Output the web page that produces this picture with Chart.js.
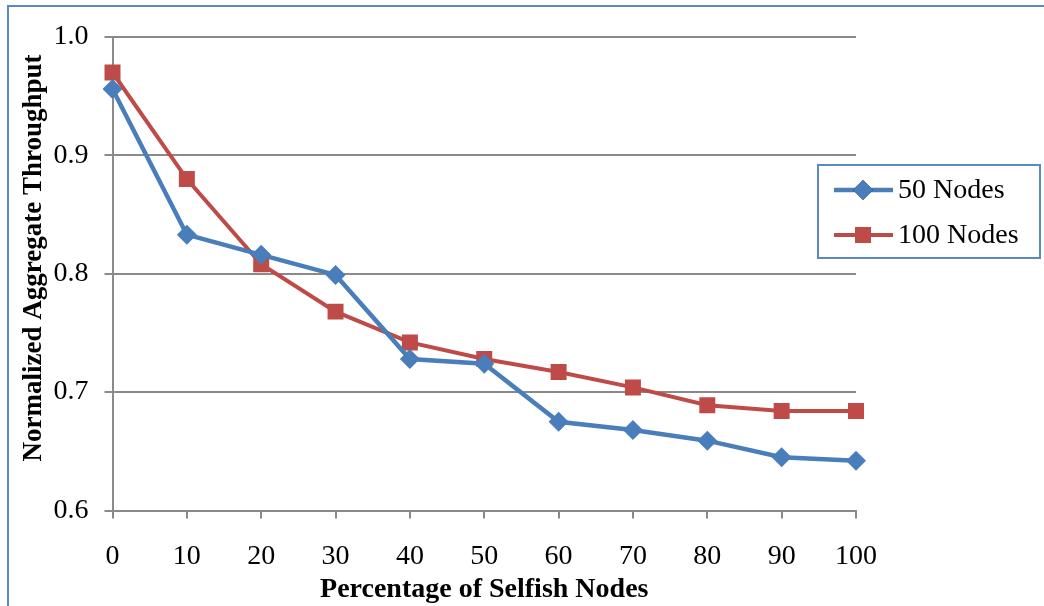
<!DOCTYPE html>
<html>
<head>
<meta charset="utf-8">
<script src="https://cdn.jsdelivr.net/npm/chart.js@4.4.1/dist/chart.umd.min.js"></script>
<style>
  html, body { margin: 0; padding: 0; background: #fff; }
  #wrap { width: 1044px; height: 606px; position: relative; }
</style>
</head>
<body>
<div id="wrap"><canvas id="c" width="1044" height="606"></canvas></div>
<script>
const categories = ['0', '10', '20', '30', '40', '50', '60', '70', '80', '90', '100'];
const nodes50 = [0.956, 0.833, 0.816, 0.799, 0.728, 0.724, 0.675, 0.668, 0.659, 0.645, 0.642];
const nodes100 = [0.970, 0.880, 0.808, 0.768, 0.742, 0.728, 0.717, 0.704, 0.689, 0.684, 0.684];
const seriesNames = ['50 Nodes', '100 Nodes'];
const yTitle = 'Normalized Aggregate Throughput';
const xTitle = 'Percentage of Selfish Nodes';

const BLUE = '#4A7EBB';
const RED = '#BE4B48';
const GRID = '#8a8a8a';
const FRAME = '#5a8ac6';
const SERIF = '"Liberation Serif", "Times New Roman", serif';

const extras = {
  id: 'extras',
  beforeDraw(chart) {
    const ctx = chart.ctx;
    ctx.save();
    ctx.fillStyle = '#fff';
    ctx.fillRect(0, 0, chart.width, chart.height);
    ctx.restore();
  },
  afterDraw(chart) {
    const ctx = chart.ctx;
    const area = chart.chartArea;
    ctx.save();
    // outer frame (top and left edges visible)
    ctx.strokeStyle = FRAME;
    ctx.lineWidth = 2;
    ctx.beginPath();
    ctx.moveTo(8, 606);
    ctx.lineTo(8, 6);
    ctx.lineTo(1044, 6);
    ctx.stroke();

    // axis titles
    ctx.fillStyle = '#000';
    ctx.font = 'bold 28px ' + SERIF;
    ctx.textAlign = 'center';
    ctx.textBaseline = 'middle';
    ctx.fillText(xTitle, (area.left + area.right) / 2, 590);
    ctx.save();
    ctx.font = 'bold 27px ' + SERIF;
    ctx.translate(34, 258);
    ctx.rotate(-Math.PI / 2);
    ctx.fillText(yTitle, 0, 0);
    ctx.restore();

    // legend box
    const bx = 818, by = 165, bw = 222, bh = 93;
    ctx.strokeStyle = FRAME;
    ctx.lineWidth = 2;
    ctx.strokeRect(bx, by, bw, bh);
    const rows = [by + 25, by + 70];
    chart.data.datasets.forEach((ds, i) => {
      const y = rows[i];
      ctx.strokeStyle = ds.borderColor;
      ctx.lineWidth = ds.borderWidth;
      ctx.beginPath();
      ctx.moveTo(834, y);
      ctx.lineTo(893, y);
      ctx.stroke();
      Chart.helpers.drawPoint(ctx, {
        pointStyle: ds.pointStyle,
        radius: ds.pointRadius,
        borderWidth: 0,
        rotation: 0
      }, 863, y);
      ctx.fillStyle = ds.pointBackgroundColor;
      ctx.fill();
      ctx.fillStyle = '#000';
      ctx.font = '28px ' + SERIF;
      ctx.textAlign = 'left';
      ctx.textBaseline = 'middle';
      ctx.fillText(ds.label, 898, y + 1);
    });
    ctx.restore();
  }
};

new Chart(document.getElementById('c'), {
  type: 'line',
  data: {
    labels: categories,
    datasets: [
      {
        label: seriesNames[0],
        data: nodes50,
        borderColor: BLUE,
        backgroundColor: BLUE,
        pointBackgroundColor: BLUE,
        pointBorderColor: BLUE,
        pointBorderWidth: 0,
        borderWidth: 4.5,
        pointStyle: 'rectRot',
        pointRadius: 10,
        tension: 0
      },
      {
        label: seriesNames[1],
        data: nodes100,
        borderColor: RED,
        backgroundColor: RED,
        pointBackgroundColor: RED,
        pointBorderColor: RED,
        pointBorderWidth: 0,
        borderWidth: 4,
        pointStyle: 'rect',
        pointRadius: 11.3,
        tension: 0
      }
    ]
  },
  options: {
    responsive: false,
    animation: false,
    devicePixelRatio: 1,
    layout: { padding: { left: 10, right: 188, top: 37, bottom: 0 } },
    plugins: {
      legend: { display: false },
      tooltip: { enabled: false }
    },
    scales: {
      x: {
        offset: false,
        grid: { display: true, drawOnChartArea: false, color: GRID, lineWidth: 2, tickLength: 8, tickColor: GRID },
        border: { display: true, color: GRID, width: 2 },
        ticks: { color: '#000', font: { family: SERIF, size: 28 }, padding: 21, maxRotation: 0, autoSkip: false },
        afterFit(scale) { scale.height = 95.5; }
      },
      y: {
        min: 0.6,
        max: 1.0,
        ticks: {
          stepSize: 0.1,
          color: '#000',
          font: { family: SERIF, size: 28 },
          padding: 16,
          callback: (v) => v.toFixed(1)
        },
        grid: { color: GRID, lineWidth: 2, tickLength: 8, tickColor: GRID },
        border: { display: true, color: GRID, width: 2 },
        afterFit(scale) { scale.width = 102.5; }
      }
    }
  },
  plugins: [extras]
});
</script>
</body>
</html>
